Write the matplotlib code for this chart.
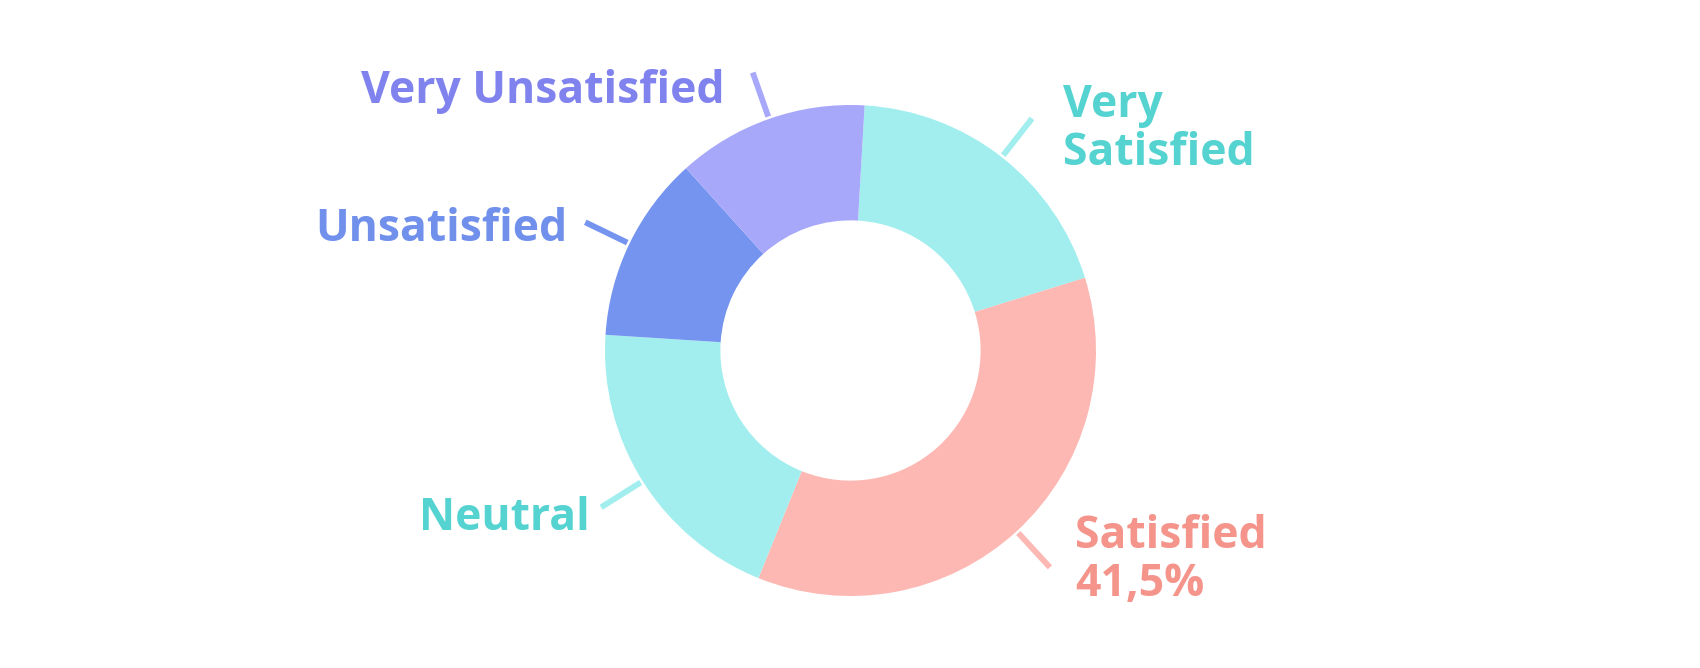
"""
Customer satisfaction donut chart with outside labels and short leader lines.
"""

import matplotlib.pyplot as plt
import numpy as np

# --- data ---
categories = ["Very Satisfied", "Satisfied", "Neutral", "Unsatisfied", "Very Unsatisfied"]
shares = [19.3, 35.9, 19.9, 12.3, 12.6]
labels = ["Very\nSatisfied", "Satisfied\n41,5%", "Neutral", "Unsatisfied", "Very Unsatisfied"]

wedge_colors = ["#a2eeef", "#fdb8b3", "#a2eeef", "#7594ef", "#a8a8fb"]
text_colors = ["#55d3d1", "#f4948b", "#55d3d1", "#7090ec", "#8083ee"]

W, H = 1700, 668
CX, CY, R = 850.5, 350.5, 245.5      # pie centre / radius in pixels

fig = plt.figure(figsize=(W / 100, H / 100), dpi=100, facecolor="white")
ax = fig.add_axes([0, 0, 1, 1])

wedges, _ = ax.pie(
    shares,
    colors=wedge_colors,
    startangle=86.7,
    counterclock=False,
    radius=1.0,
    wedgeprops=dict(width=0.47, linewidth=0),
)

ax.set_xlim(-CX / R, (W - CX) / R)
ax.set_ylim(-(H - CY) / R, CY / R)
ax.set_aspect("equal")
ax.axis("off")

# --- leader lines at the middle of each wedge ---
for w, col in zip(wedges, wedge_colors):
    mid = np.deg2rad((w.theta1 + w.theta2) / 2)
    r = np.array([1.01, 1.2])
    ax.plot(r * np.cos(mid), r * np.sin(mid), color=col, lw=4.2,
            solid_capstyle="butt", zorder=3)

# --- labels: (x, first baseline y, ha) in pixel coords of the reference ---
label_pos = {
    "Very Satisfied": (1063, 117, "left"),
    "Satisfied": (1075, 548, "left"),
    "Neutral": (590, 530, "right"),
    "Unsatisfied": (568, 241, "right"),
    "Very Unsatisfied": (725, 103, "right"),
}
line_step = 48

for cat, lab, col in zip(categories, labels, text_colors):
    px, py, ha = label_pos[cat]
    for i, line in enumerate(lab.split("\n")):
        ax.text((px - CX) / R, (CY - (py + i * line_step)) / R, line,
                ha=ha, va="baseline", color=col, fontsize=32,
                fontfamily="Open Sans", fontweight="bold")

fig.savefig("out.png", dpi=100, facecolor="white")
plt.close(fig)
